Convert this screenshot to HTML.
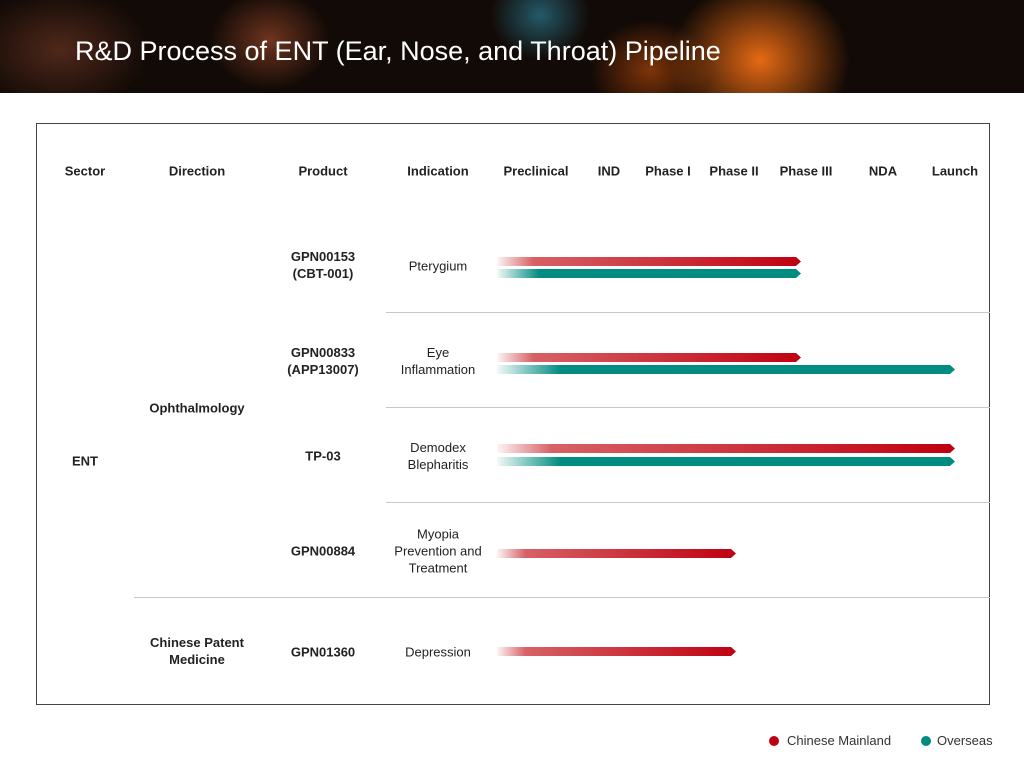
<!DOCTYPE html>
<html><head><meta charset="utf-8"><style>
*{margin:0;padding:0;box-sizing:border-box}
body{width:1024px;height:771px;background:#fff;position:relative;overflow:hidden;font-family:"Liberation Sans",sans-serif;color:#222}
#hdr{position:absolute;left:0;top:0;width:1024px;height:93px;background:
radial-gradient(ellipse 60px 50px at 270px 40px,rgba(150,70,40,.7),transparent),
radial-gradient(ellipse 90px 60px at 60px 50px,rgba(120,60,40,.6),transparent),
radial-gradient(ellipse 50px 45px at 540px 15px,rgba(40,110,130,.8),transparent),
radial-gradient(ellipse 90px 80px at 760px 60px,rgba(240,110,20,.95),transparent),
radial-gradient(ellipse 60px 50px at 650px 70px,rgba(200,80,10,.6),transparent),
#120a06}
#hdr h1{position:absolute;left:75px;top:36px;color:#fff;font-weight:normal;font-size:27px;letter-spacing:0}
.box{position:absolute;left:36px;top:123px;width:954px;height:582px;border:1px solid #444}
.t{position:absolute;font-size:13px;text-align:center;transform:translate(-50%,-50%);line-height:17px;white-space:nowrap}
.b{font-weight:bold}
.ln{position:absolute;height:1px;background:#c8c8c8}
.bar{position:absolute;height:9px;left:497px;clip-path:polygon(0 0,calc(100% - 5px) 0,100% 50%,calc(100% - 5px) 100%,0 100%)}
.r{background:linear-gradient(90deg,rgba(210,60,70,0.05),rgba(210,80,85,.9) 12%,#c00010)}
.g{background:linear-gradient(90deg,rgba(0,140,125,0.05),#008c80 14%,#008c80)}
.dot{position:absolute;width:10px;height:10px;border-radius:50%}
</style></head><body>
<div id="hdr"><h1>R&amp;D Process of ENT (Ear, Nose, and Throat) Pipeline</h1></div>
<div class="box"></div>
<div class="t b" style="left:85px;top:171px">Sector</div>
<div class="t b" style="left:197px;top:171px">Direction</div>
<div class="t b" style="left:323px;top:171px">Product</div>
<div class="t b" style="left:438px;top:171px">Indication</div>
<div class="t b" style="left:536px;top:171px">Preclinical</div>
<div class="t b" style="left:609px;top:171px">IND</div>
<div class="t b" style="left:668px;top:171px">Phase I</div>
<div class="t b" style="left:734px;top:171px">Phase II</div>
<div class="t b" style="left:806px;top:171px">Phase III</div>
<div class="t b" style="left:883px;top:171px">NDA</div>
<div class="t b" style="left:955px;top:171px">Launch</div>

<div class="ln" style="left:386px;top:312px;width:604px"></div>
<div class="ln" style="left:386px;top:407px;width:604px"></div>
<div class="ln" style="left:386px;top:502px;width:604px"></div>
<div class="ln" style="left:134px;top:597px;width:856px"></div>

<div class="t b" style="left:85px;top:461px">ENT</div>
<div class="t b" style="left:197px;top:408px">Ophthalmology</div>
<div class="t b" style="left:197px;top:651px">Chinese Patent<br>Medicine</div>

<div class="t b" style="left:323px;top:265px">GPN00153<br>(CBT-001)</div>
<div class="t b" style="left:323px;top:361px">GPN00833<br>(APP13007)</div>
<div class="t b" style="left:323px;top:456px">TP-03</div>
<div class="t b" style="left:323px;top:551px">GPN00884</div>
<div class="t b" style="left:323px;top:652px">GPN01360</div>

<div class="t" style="left:438px;top:266px">Pterygium</div>
<div class="t" style="left:438px;top:361px">Eye<br>Inflammation</div>
<div class="t" style="left:438px;top:456px">Demodex<br>Blepharitis</div>
<div class="t" style="left:438px;top:551px">Myopia<br>Prevention and<br>Treatment</div>
<div class="t" style="left:438px;top:652px">Depression</div>

<div class="bar r" style="top:257px;width:304px"></div>
<div class="bar g" style="top:269px;width:304px"></div>
<div class="bar r" style="top:353px;width:304px"></div>
<div class="bar g" style="top:365px;width:458px"></div>
<div class="bar r" style="top:444px;width:458px"></div>
<div class="bar g" style="top:457px;width:458px"></div>
<div class="bar r" style="top:549px;width:239px"></div>
<div class="bar r" style="top:647px;width:239px"></div>

<div class="dot" style="left:769px;top:736px;background:#c00010"></div>
<div style="position:absolute;left:787px;top:733px;font-size:13px;color:#333">Chinese Mainland</div>
<div class="dot" style="left:921px;top:736px;background:#008c80"></div>
<div style="position:absolute;left:937px;top:733px;font-size:13px;color:#333">Overseas</div>
</body></html>
